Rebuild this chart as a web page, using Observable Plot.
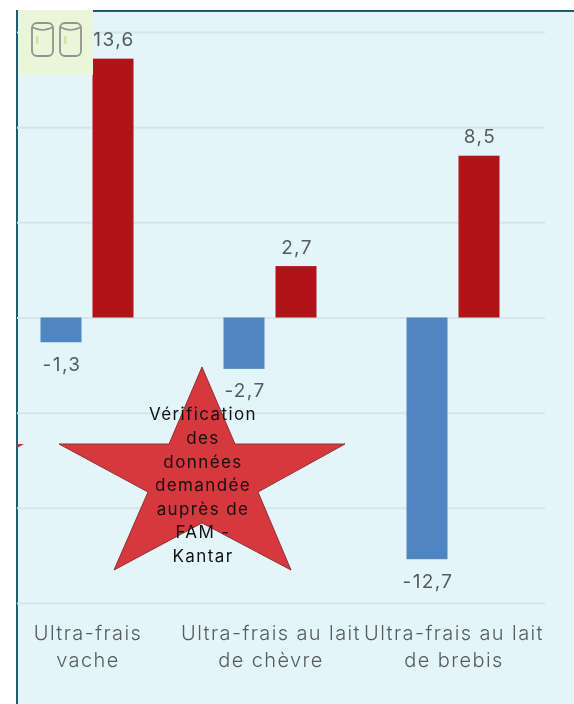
<!DOCTYPE html>
<html><head><meta charset="utf-8">
<script src="https://cdn.jsdelivr.net/npm/d3@7"></script>
<script src="https://cdn.jsdelivr.net/npm/@observablehq/plot@0.6"></script>
<style>
html,body{margin:0;padding:0;background:#fff;width:574px;height:704px;overflow:hidden}
#panel{position:absolute;left:16px;top:10px;width:558px;height:694px;box-sizing:border-box;background:#e3f5f9;border-left:2px solid #1f5c6e;border-top:2px solid #1f5c6e}
#chart{position:absolute;left:0;top:0;filter:blur(0.6px)}
#chart text{letter-spacing:1.4px}
svg{display:block;background:transparent !important}
</style></head>
<body><div id="panel"></div><div id="chart"></div>
<script>
const categories = ["Ultra-frais\nvache", "Ultra-frais au lait\nde chèvre", "Ultra-frais au lait\nde brebis"];
const blueValues = [-1.3, -2.7, -12.7];
const redValues = [13.6, 2.7, 8.5];
const gridValues = [-15, -10, -5, 0, 5, 10, 15];
const starNote = "Vérification\ndes\ndonnées\ndemandée\nauprès de\nFAM -\nKantar";

const blue = categories.map((c, i) => ({category: c, value: blueValues[i]}));
const red = categories.map((c, i) => ({category: c, value: redValues[i]}));
const comma = v => String(v).replace(".", ",");
const NS = "http://www.w3.org/2000/svg";
const el = (name, attrs) => {
  const e = document.createElementNS(NS, name);
  for (const k in attrs) e.setAttribute(k, attrs[k]);
  return e;
};
const FONT = "Inter,'Open Sans',sans-serif";
const INK = "#565c5e";

function starMark() {
  const g = el("g", {});
  g.appendChild(el("polygon", {points: "17,444 24,444 17,448", fill: "#b5353a"}));
  g.appendChild(el("polygon", {
    points: "202,367 235,444 345,444 258,492 291,570 202,523 114,570 148,492 59,444 169,444",
    fill: "#d5383d", stroke: "#8c3236", "stroke-width": 1
  }));
  return g;
}
function iconMark() {
  const g = el("g", {});
  g.appendChild(el("rect", {x: 18, y: 10, width: 75, height: 65, fill: "#eaf5d9"}));
  for (const x of [32, 60]) {
    g.appendChild(el("rect", {x, y: 23, width: 21, height: 33, rx: 5, fill: "none", stroke: "#90958d", "stroke-width": 1.8}));
    g.appendChild(el("path", {d: `M${x} 27 Q${x + 10.5} 33 ${x + 21} 27`, fill: "none", stroke: "#90958d", "stroke-width": 1.5}));
    g.appendChild(el("rect", {x: x + 4, y: 36, width: 2.5, height: 8, fill: "#cfe5a8"}));
  }
  return g;
}

const chart = Plot.plot({
  width: 574, height: 704,
  marginTop: 32, marginBottom: 101, marginLeft: 17, marginRight: 29,
  style: {background: "transparent", fontFamily: FONT},
  x: {domain: categories, range: [-5, 545], padding: 0, label: null, axis: null},
  y: {domain: [-15, 15], label: null, axis: null},
  marks: [
    Plot.ruleY(gridValues, {stroke: "#d5e6e8", strokeWidth: 2}),
    Plot.barY(blue, {x: "category", y: "value", fill: "#4f86c2", insetLeft: 44.5, insetRight: 97.5}),
    Plot.barY(red, {x: "category", y: "value", fill: "#b01318", insetLeft: 96.5, insetRight: 45.5}),
    Plot.text(blue, {x: "category", y: "value", text: d => comma(d.value), dx: -26, dy: 22, fontSize: 19, fontWeight: 400, fill: INK}),
    Plot.text(red, {x: "category", y: "value", text: d => comma(d.value), dx: 26, dy: -19, fontSize: 19, fontWeight: 400, fill: INK}),
    Plot.axisX({anchor: "bottom", tickSize: 0, tickPadding: 18, fontSize: 20, fontWeight: 300, lineHeight: 1.33, fill: INK, label: null, stroke: "none", lineAnchor: "top"}),
    iconMark,
    starMark,
    Plot.text([starNote], {frameAnchor: "top-left", textAnchor: "middle", dx: 185.5, dy: 371, lineAnchor: "top", lineHeight: 1.39, fontSize: 17, fill: "#111"})
  ]
});
document.getElementById("chart").appendChild(chart);
</script></body></html>
